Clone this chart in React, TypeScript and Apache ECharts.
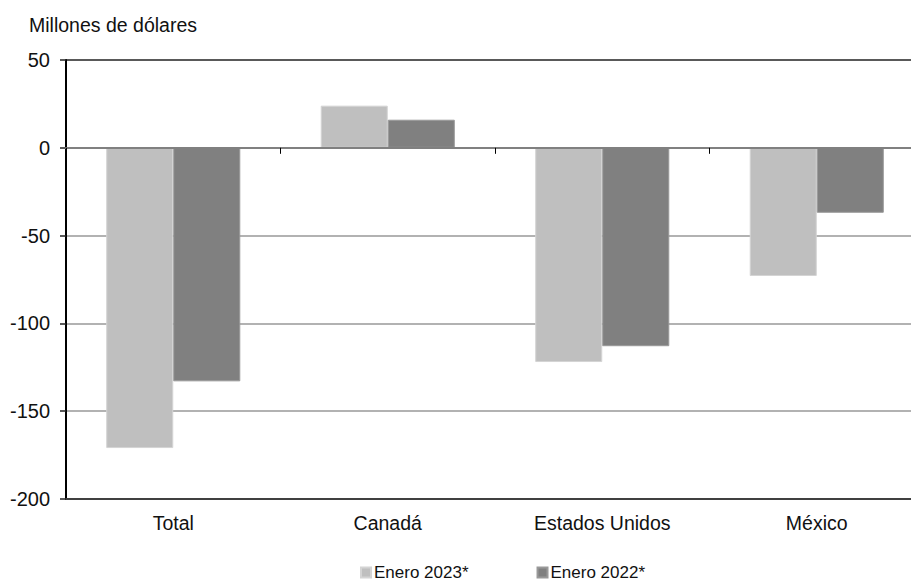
import React, { useEffect, useRef } from "react";
import * as echarts from "echarts";

const categories = ["Total", "Canadá", "Estados Unidos", "México"];
const enero2023 = [-171, 24, -122, -73];
const enero2022 = [-133, 16, -113, -37];
const seriesNames = ["Enero 2023*", "Enero 2022*"];
const yTicks = { min: -200, max: 50, interval: 50 };
const unitLabel = "Millones de dólares";

const FONT = "'Liberation Sans', Arial, Helvetica, sans-serif";

export default function App() {
  const ref = useRef<HTMLDivElement>(null);
  useEffect(() => {
    if (!ref.current) return;
    const chart = echarts.init(ref.current, null, { renderer: "svg" });
    chart.setOption({
      animation: false,
      backgroundColor: "#ffffff",
      textStyle: { fontFamily: FONT },
      title: {
        text: unitLabel,
        left: 24,
        top: 10,
        textStyle: { fontFamily: FONT, fontSize: 19.5, fontWeight: "normal", color: "#111" },
      },
      legend: {
        data: seriesNames,
        left: 355,
        top: 559,
        itemWidth: 10,
        itemHeight: 10,
        itemGap: 68,
        icon: "rect",
        textStyle: { fontFamily: FONT, fontSize: 17, color: "#111", padding: [0, 0, 0, -2] },
      },
      grid: { left: 66, top: 60, width: 858, height: 439 },
      xAxis: [
        {
          type: "category",
          data: categories,
          axisLine: { onZero: true, lineStyle: { color: "#808080", width: 2 } },
          axisTick: { show: true, length: 6, lineStyle: { color: "#000", width: 1 } },
          axisLabel: { show: false },
          splitLine: { show: false },
          z: 5,
        },
        {
          type: "category",
          data: categories,
          position: "bottom",
          axisLine: { show: true, onZero: false, lineStyle: { color: "#404040", width: 2 } },
          axisTick: { show: false },
          axisLabel: { show: true, fontFamily: FONT, fontSize: 19.5, color: "#111", margin: 14 },
          splitLine: { show: false },
        },
      ],
      yAxis: {
        type: "value",
        min: yTicks.min,
        max: yTicks.max,
        interval: yTicks.interval,
        axisLine: { show: true, lineStyle: { color: "#000", width: 2 } },
        axisTick: { show: true, length: 6, lineStyle: { color: "#222", width: 1.5 } },
        axisLabel: { fontFamily: FONT, fontSize: 20, color: "#111", margin: 16 },
        splitLine: {
          show: true,
          lineStyle: {
            color: ["#404040", "#999999", "#999999", "#999999", "#808080", "#222222"],
            width: 1.5,
          },
        },
      },
      series: [
        {
          name: seriesNames[0],
          type: "bar",
          data: enero2023,
          barGap: "0%",
          barCategoryGap: "37.5%",
          itemStyle: { color: "#bfbfbf", borderColor: "#d4d4d4", borderWidth: 1 },
        },
        {
          name: seriesNames[1],
          type: "bar",
          data: enero2022,
          barGap: "0%",
          barCategoryGap: "37.5%",
          itemStyle: { color: "#808080", borderColor: "#999999", borderWidth: 1 },
        },
      ],
    });
    return () => chart.dispose();
  }, []);
  return (
    <div
      style={{
        position: "fixed",
        left: 0,
        top: 0,
        width: 911,
        height: 581,
        overflow: "hidden",
        background: "#fff",
      }}
    >
      <div ref={ref} style={{ width: 940, height: 581 }} />
    </div>
  );
}
